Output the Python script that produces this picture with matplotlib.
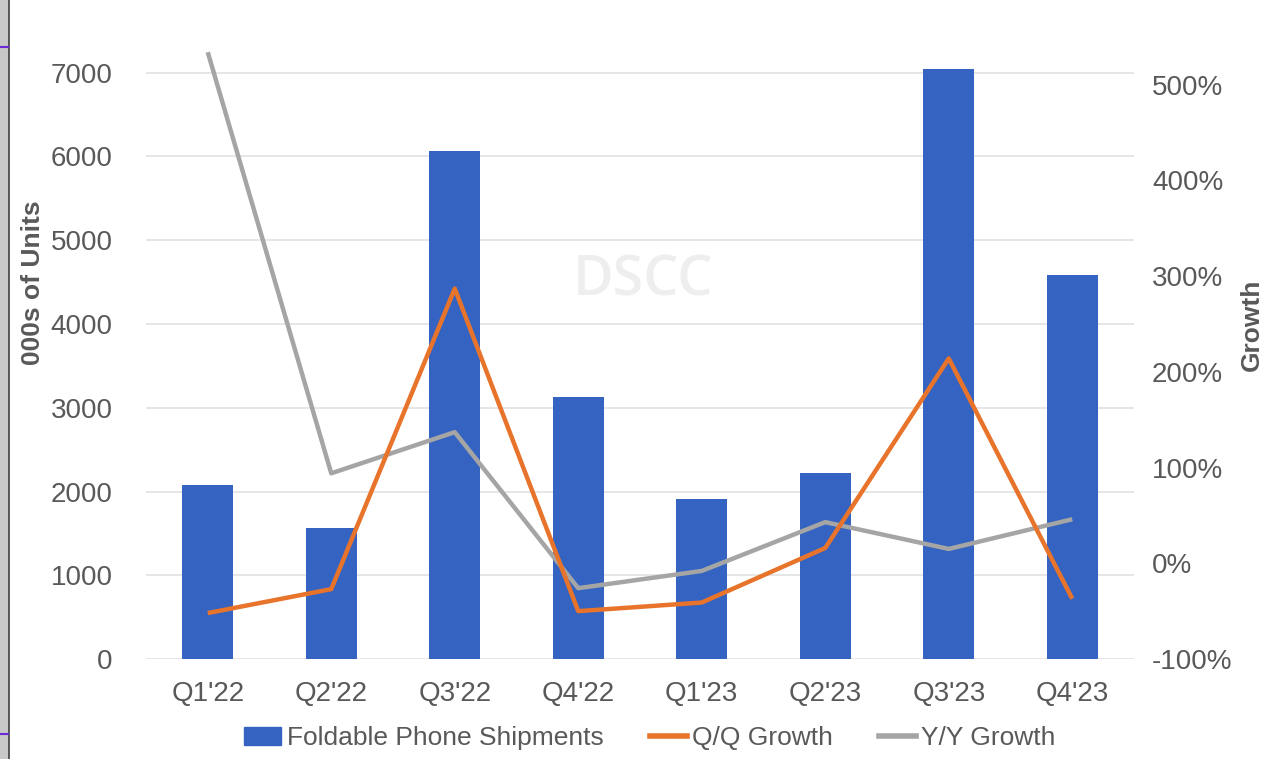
import matplotlib
matplotlib.use("Agg")
import matplotlib.pyplot as plt
from matplotlib.patches import Rectangle
from matplotlib.lines import Line2D
from matplotlib.ticker import FuncFormatter

plt.rcParams['font.family'] = ['Liberation Sans', 'DejaVu Sans']

quarters = ["Q1'22", "Q2'22", "Q3'22", "Q4'22", "Q1'23", "Q2'23", "Q3'23", "Q4'23"]
shipments = [2080, 1560, 6060, 3130, 1910, 2220, 7040, 4590]
qq_growth = [-0.52, -0.27, 2.87, -0.50, -0.41, 0.16, 2.14, -0.37]
yy_growth = [5.34, 0.94, 1.37, -0.26, -0.08, 0.43, 0.15, 0.46]

BLUE = '#3463c1'
ORANGE = '#e8742c'
GRAY = '#a5a5a5'
TXT = '#595959'

W, H = 1280, 759
fig = plt.figure(figsize=(W / 100, H / 100), dpi=100)

left_px, right_px, bottom_px, top_px = 146, 1134, 659, -11
ax = fig.add_axes([left_px / W, (H - bottom_px) / H,
                   (right_px - left_px) / W, (bottom_px - top_px) / H])
x = list(range(len(quarters)))
ax.bar(x, shipments, width=0.41, color=BLUE, zorder=2)
ax.set_xlim(-0.5, len(quarters) - 0.5)
ax.set_ylim(0, 8000)
ax.set_yticks(range(0, 8000, 1000))
ax.grid(axis='y', color='#e2e2e2', linewidth=1.2, zorder=0)
ax.set_axisbelow(True)
for s in ax.spines.values():
    s.set_visible(False)
ax.tick_params(axis='y', length=0, pad=24, labelsize=20, labelcolor=TXT)
ax.tick_params(axis='x', length=0, pad=16, labelsize=20, labelcolor=TXT)
ax.set_xticks(x)
ax.set_xticklabels(quarters)

ax2 = ax.twinx()
ax2.set_ylim(-1, 6)
ax2.set_yticks([-1, 0, 1, 2, 3, 4, 5])
ax2.yaxis.set_major_formatter(FuncFormatter(lambda v, p: f"{v*100:.0f}%"))
for s in ax2.spines.values():
    s.set_visible(False)
ax2.tick_params(axis='y', length=0, pad=13, labelsize=20, labelcolor=TXT)
ax2.plot(x, yy_growth, color=GRAY, linewidth=3.2, zorder=3, solid_capstyle='butt')
ax2.plot(x, qq_growth, color=ORANGE, linewidth=3.2, zorder=4, solid_capstyle='butt')

# watermark
ax.text(0.503, 0.563, 'DSCC', transform=ax.transAxes, fontsize=40, color='#eeeeee',
        ha='center', va='center', zorder=1, fontweight='semibold',
        family=['Open Sans', 'DejaVu Sans'])

# axis labels
fig.text(33 / W, 1 - 283 / H, '000s of Units', rotation=90, ha='center', va='center',
         fontsize=19, fontweight='bold', color=TXT)
fig.text(1252 / W, 1 - 325 / H, 'Growth', rotation=90, ha='center', va='center',
         fontsize=19, fontweight='bold', color=TXT)

# legend
handles = [Rectangle((0, 0), 1, 1, color=BLUE),
           Line2D([0], [0], color=ORANGE, linewidth=4),
           Line2D([0], [0], color=GRAY, linewidth=4)]
labels = ['Foldable Phone Shipments', 'Q/Q Growth', 'Y/Y Growth']
fig.legend(handles, labels, loc='center', bbox_to_anchor=(650 / W, 1 - 738 / H),
           ncol=3, frameon=False, fontsize=19, labelcolor=TXT,
           handlelength=1.4, handletextpad=0.2, columnspacing=1.75)

# screenshot edge artifact
fig.add_artist(Rectangle((0, 0), 8 / W, 1, transform=fig.transFigure,
                         color='#c8c8c8', zorder=10))
fig.add_artist(Line2D([8.5 / W, 8.5 / W], [0, 1], transform=fig.transFigure,
                      color='#404040', linewidth=1.2, zorder=11))
for yy in (47, 734):
    fig.add_artist(Line2D([0, 8 / W], [1 - yy / H, 1 - yy / H], transform=fig.transFigure,
                          color='#6a2bd6', linewidth=1.5, zorder=11))

fig.savefig('out.png', dpi=100)
